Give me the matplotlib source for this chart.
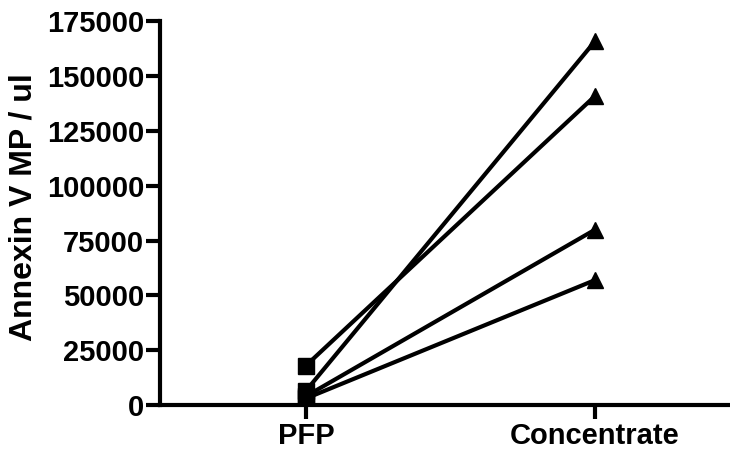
import matplotlib
matplotlib.use("Agg")
import matplotlib.pyplot as plt

# Paired measurements: plasma (PFP) vs concentrate, one line per donor
groups = ["PFP", "Concentrate"]
pfp_values = [18000, 6500, 4000, 3000]
concentrate_values = [141000, 166000, 80000, 57000]
y_ticks = [0, 25000, 50000, 75000, 100000, 125000, 150000, 175000]
y_label = "Annexin V MP / ul"

plt.rcParams["font.family"] = ["Liberation Sans", "DejaVu Sans"]
plt.rcParams["font.weight"] = "bold"

W, H = 730, 449
fig = plt.figure(figsize=(W / 100, H / 100), dpi=100)
ax = fig.add_axes([160 / W, (H - 405) / H, (W - 160) / W, (405 - 21.5) / H])

x = list(range(len(groups)))
for a, b in zip(pfp_values, concentrate_values):
    ax.plot(x, [a, b], color="black", linewidth=3, solid_capstyle="butt", zorder=2)
ax.plot([x[0]] * len(pfp_values), pfp_values, linestyle="none", marker="s",
        markersize=11.5, color="black", zorder=3)
ax.plot([x[1]] * len(concentrate_values), concentrate_values, linestyle="none",
        marker="^", markersize=12, color="black", zorder=3)

ax.set_xlim(-0.505, 1.467)
ax.set_ylim(0, 175000)
ax.set_xticks(x)
ax.set_xticklabels(groups)
ax.set_yticks(y_ticks)
ax.set_yticklabels([str(v) for v in y_ticks])

for side in ("top", "right"):
    ax.spines[side].set_visible(False)
for side in ("left", "bottom"):
    ax.spines[side].set_linewidth(3)
    ax.spines[side].set_capstyle("projecting")

ax.tick_params(axis="both", which="major", width=3, length=10, color="black")
ax.tick_params(axis="y", pad=1.5, labelsize=21)
ax.tick_params(axis="x", pad=2, labelsize=21)
for lbl in ax.get_xticklabels() + ax.get_yticklabels():
    lbl.set_fontweight("bold")

ax.set_ylabel(y_label, fontsize=23, fontweight="bold")
ax.yaxis.set_label_coords(-0.213, 0.515)

fig.savefig("out.png", dpi=100)
